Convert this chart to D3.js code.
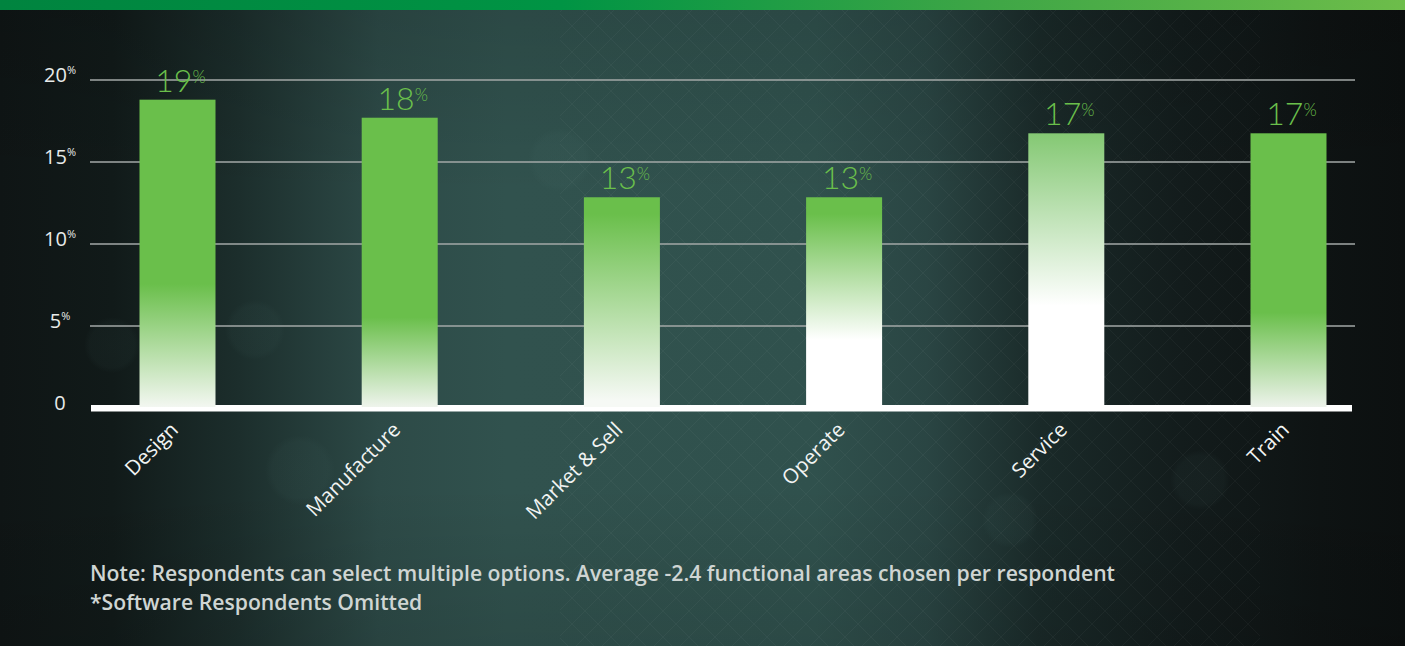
<!DOCTYPE html>
<html>
<head>
<meta charset="utf-8">
<script src="https://cdn.jsdelivr.net/npm/d3@7"></script>
<style>
  html, body { margin: 0; padding: 0; background: #0f1515; }
  svg { display: block; }
</style>
</head>
<body>
<svg id="chart" width="1405" height="646"></svg>
<script>
// ---- data ----
const categories = ["Design", "Manufacture", "Market & Sell", "Operate", "Service", "Train"];
const values = [18.8, 17.7, 12.85, 12.85, 16.75, 16.75];
const valueLabels = ["19", "18", "13", "13", "17", "17"];
const yTicks = [0, 5, 10, 15, 20];
const yTickLabels = ["0", "5", "10", "15", "20"];
const notes = [
  "Note: Respondents can select multiple options. Average -2.4 functional areas chosen per respondent",
  "*Software Respondents Omitted"
];
// bar gradient styles (offset, color)
const barGradients = [
  [[0, "#6abf4b"], [0.6, "#6abf4b"], [1, "#f3f7f1"]],
  [[0, "#6abf4b"], [0.69, "#6abf4b"], [1, "#eef4ec"]],
  [[0, "#6abf4b"], [0.08, "#6abf4b"], [0.97, "#f6f9f5"], [1, "#f6f9f5"]],
  [[0, "#6abf4b"], [0.08, "#6abf4b"], [0.68, "#ffffff"], [1, "#ffffff"]],
  [[0, "#84c873"], [0.63, "#ffffff"], [1, "#ffffff"]],
  [[0, "#6abf4b"], [0.655, "#6abf4b"], [1, "#edf3eb"]]
];

const W = 1405, H = 646;
const svg = d3.select("#chart");
const defs = svg.append("defs");

// background
const bg = defs.append("linearGradient").attr("id", "bg").attr("x1", 0).attr("x2", 1).attr("y1", 0).attr("y2", 0);
[[0, "#0f1515"], [0.08, "#111a19"], [0.17, "#1c2e2c"], [0.27, "#2d4a47"], [0.36, "#31524e"],
 [0.58, "#30514d"], [0.66, "#2a4543"], [0.74, "#1a2a29"], [0.84, "#131c1c"], [0.94, "#0e1313"], [1, "#0c1010"]]
  .forEach(s => bg.append("stop").attr("offset", s[0]).attr("stop-color", s[1]));
svg.append("rect").attr("width", W).attr("height", H).attr("fill", "url(#bg)");

const vshade = defs.append("linearGradient").attr("id", "vshade").attr("x1", 0).attr("x2", 0).attr("y1", 0).attr("y2", 1);
[[0, "#000", 0.12], [0.3, "#000", 0], [0.75, "#000", 0], [1, "#000", 0.1]]
  .forEach(s => vshade.append("stop").attr("offset", s[0]).attr("stop-color", s[1]).attr("stop-opacity", s[2]));
svg.append("rect").attr("width", W).attr("height", H).attr("fill", "url(#vshade)");

// soft bokeh circles
const bokeh = defs.append("radialGradient").attr("id", "bokeh");
[[0, 0.06], [0.8, 0.05], [1, 0]].forEach(s => bokeh.append("stop").attr("offset", s[0]).attr("stop-color", "#5f8a85").attr("stop-opacity", s[1]));
[[112, 345, 28], [255, 330, 30], [300, 470, 35], [1200, 480, 30], [1010, 520, 28], [560, 160, 32]]
  .forEach(c => svg.append("circle").attr("cx", c[0]).attr("cy", c[1]).attr("r", c[2]).attr("fill", "url(#bokeh)"));

// faint mesh pattern
const pat = defs.append("pattern").attr("id", "mesh").attr("width", 26).attr("height", 26).attr("patternUnits", "userSpaceOnUse");
pat.append("path").attr("d", "M0,0 L26,26 M26,0 L0,26").attr("stroke", "#ffffff").attr("stroke-opacity", 0.035).attr("stroke-width", 1);
svg.append("rect").attr("x", 560).attr("y", 10).attr("width", 700).attr("height", H).attr("fill", "url(#mesh)");

// top bar
const tb = defs.append("linearGradient").attr("id", "topbar").attr("x1", 0).attr("x2", 1);
[[0, "#00843f"], [0.4, "#009444"], [0.7, "#3ea646"], [1, "#6dbd4a"]]
  .forEach(s => tb.append("stop").attr("offset", s[0]).attr("stop-color", s[1]));
svg.append("rect").attr("x", 0).attr("y", 0).attr("width", W).attr("height", 10).attr("fill", "url(#topbar)");

// scales
const x = d3.scaleBand().domain(categories).range([66.4, 1399.6]).paddingInner(0.658).paddingOuter(0.329);
const y = d3.scaleLinear().domain([0, 20]).range([408, 80]);
const gridX0 = 90, gridX1 = 1355;

// gridlines
svg.append("g").selectAll("line").data(yTicks.filter(d => d > 0)).join("line")
  .attr("x1", gridX0).attr("x2", gridX1)
  .attr("y1", d => y(d)).attr("y2", d => y(d))
  .attr("stroke", "#a3a8a7").attr("stroke-width", 1.3);

// y tick labels
const yl = svg.append("g").selectAll("text").data(yTicks).join("text")
  .attr("x", 60).attr("y", d => y(d) + 2)
  .attr("text-anchor", "middle")
  .attr("fill", "#e8ebea")
  .attr("font-family", "'Open Sans', sans-serif")
  .attr("font-size", 20);
yl.append("tspan").text((d, i) => yTickLabels[i]);
yl.filter(d => d > 0).append("tspan").attr("font-size", 11).attr("dy", -8).text("%");

// bar gradients
barGradients.forEach((stops, i) => {
  const g = defs.append("linearGradient").attr("id", "bar" + i).attr("x1", 0).attr("x2", 0).attr("y1", 0).attr("y2", 1);
  stops.forEach(s => g.append("stop").attr("offset", s[0]).attr("stop-color", s[1]));
});

// baseline
svg.append("rect").attr("x", 91).attr("y", y(0) - 3).attr("width", 1261).attr("height", 6.5).attr("fill", "#ffffff");

// bars
svg.append("g").selectAll("rect").data(values).join("rect")
  .attr("x", (d, i) => x(categories[i]))
  .attr("width", x.bandwidth())
  .attr("y", d => y(d))
  .attr("height", d => y(0) - 1 - y(d))
  .attr("fill", (d, i) => "url(#bar" + i + ")");

// value labels
const vl = svg.append("g").selectAll("text").data(values).join("text")
  .attr("x", (d, i) => x(categories[i]) + x.bandwidth() / 2 + 3)
  .attr("y", d => y(d) - 8)
  .attr("text-anchor", "middle")
  .attr("fill", "#6abf4b")
  .attr("font-family", "Lato, 'Open Sans', sans-serif")
  .attr("font-weight", 300)
  .attr("font-size", 32);
vl.append("tspan").text((d, i) => valueLabels[i]);
vl.append("tspan").attr("font-size", 17).attr("dy", -9).text("%");

// x labels
svg.append("g").selectAll("text").data(categories).join("text")
  .attr("transform", d => `translate(${x(d) + x.bandwidth() / 2 + 2},${431}) rotate(-45)`)
  .attr("text-anchor", "end")
  .attr("fill", "#f2f4f3")
  .attr("font-family", "'Open Sans', sans-serif")
  .attr("font-size", 20.5)
  .text(d => d);

// notes
svg.append("g").selectAll("text").data(notes).join("text")
  .attr("x", 90).attr("y", (d, i) => 581 + i * 29)
  .attr("fill", "#cfd5d3")
  .attr("font-family", "'Open Sans', sans-serif")
  .attr("font-weight", 600)
  .attr("font-size", 21.2)
  .text(d => d);
</script>
</body>
</html>
